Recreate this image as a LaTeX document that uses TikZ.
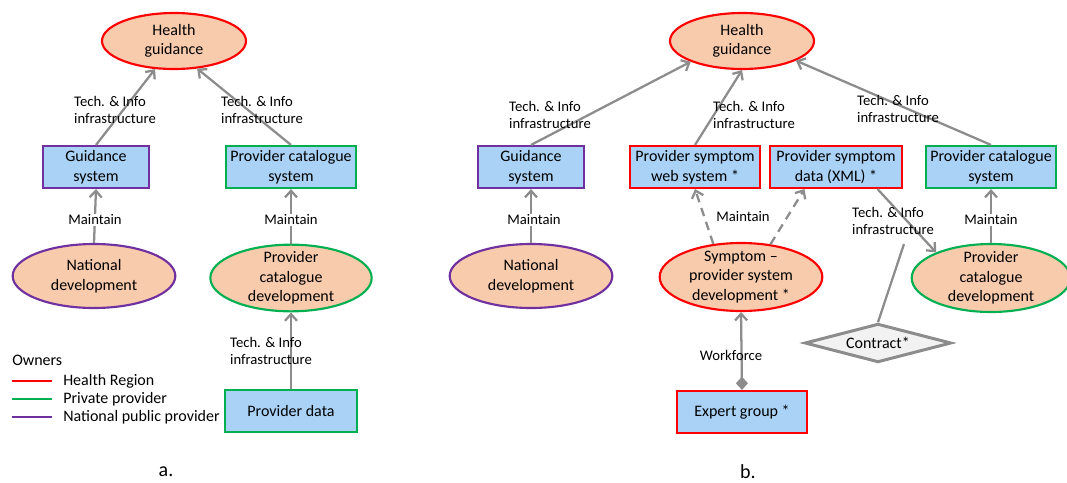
\documentclass[tikz,border=0pt]{standalone}
\usepackage{fontspec}
\setmainfont{Carlito}
\usetikzlibrary{arrows.meta,shapes.geometric}

\definecolor{peach}{RGB}{248,203,173}
\definecolor{sysblue}{RGB}{169,210,246}
\definecolor{hred}{RGB}{255,0,0}
\definecolor{pgreen}{RGB}{0,176,80}
\definecolor{npurple}{RGB}{112,48,160}
\definecolor{linkgray}{RGB}{140,140,140}
\definecolor{paper}{RGB}{242,242,242}

\begin{document}
\begin{tikzpicture}[x=0.75pt,y=-0.75pt,
    barb/.tip={Straight Barb[length=5pt,width=9pt]},
    box/.style={draw,fill=sysblue,line width=1.6pt,inner sep=1pt,minimum height=31.5pt,
      align=center,font=\fontsize{12}{14.6}\selectfont},
    oval/.style={ellipse,draw,fill=peach,line width=1.6pt,inner xsep=0pt,inner ysep=-3pt,
      align=center,font=\fontsize{12}{14.6}\selectfont},
    lbl/.style={align=left,inner sep=1pt,font=\fontsize{11}{12.8}\selectfont},
    link/.style={draw=linkgray,line width=1.7pt,-barb},
    capt/.style={font=\fontsize{15}{18}\selectfont}]
    \useasboundingbox (0,0) rectangle (1067,482);

    % a.
    \node[oval,draw=hred,minimum width=108pt,minimum height=42pt] (hga) at (174,41) {Health\\guidance};
    \node[box,draw=npurple,minimum width=80pt] (gsa) at (96,167) {Guidance\\system};
    \node[box,draw=pgreen,minimum width=98pt] (pcsa) at (291,167) {Provider catalogue\\system};
    \node[oval,draw=npurple,minimum width=122pt,minimum height=48pt] (nda) at (94,276) {National\\development};
    \node[oval,draw=pgreen,minimum width=121pt,minimum height=50pt] (pcda) at (291,278) {Provider\\catalogue\\development};
    \node[box,draw=pgreen,minimum width=99pt,minimum height=31pt] (pda) at (291,411) {Provider data};

    \draw[link] (gsa.north) -- (hga.236);
    \draw[link] (pcsa.north) -- (hga.310);
    \draw[link] (nda.north) -- (gsa.south);
    \draw[link] (pcda.north) -- (pcda.north |- pcsa.south);
    \draw[link] (pda.north) -- (pcda.south);

    \node[lbl] (tia1) at (115,110) {Tech. \& Info\\infrastructure};
    \node[lbl] (tia2) at (262,110) {Tech. \& Info\\infrastructure};
    \node[lbl,fill=white] (mta1) at (95,220) {Maintain};
    \node[lbl,fill=white] (mta2) at (291,220) {Maintain};
    \node[lbl] (tia3) at (271,351) {Tech. \& Info\\infrastructure};

    % owners
    \node[anchor=west,inner sep=0pt,font=\fontsize{12}{14}\selectfont] (own) at (12,360) {Owners};
    \foreach \y/\c/\t [count=\i] in {381/hred/Health Region,399/pgreen/Private provider,417/npurple/National public provider} {
      \node[anchor=west,inner sep=0pt,font=\fontsize{12}{14}\selectfont] (own\i) at (63,\y) {\t};
      \draw[\c,line width=1.6pt] (12,\y) -- (52,\y);
    }
    \node[capt] (capa) at (166,472) {a.};

    % b.
    \node[oval,draw=hred,minimum width=108pt,minimum height=42pt] (hgb) at (742,41) {Health\\guidance};
    \node[box,draw=npurple,minimum width=80pt] (gsb) at (531,167) {Guidance\\system};
    \node[box,draw=hred,minimum width=97.5pt] (pswb) at (695,167) {Provider symptom\\web system *};
    \node[box,draw=hred,minimum width=99pt] (psdb) at (836,167) {Provider symptom\\data (XML) *};
    \node[box,draw=pgreen,minimum width=98pt] (pcsb) at (991,167) {Provider catalogue\\system};
    \node[oval,draw=npurple,minimum width=122pt,minimum height=48pt] (ndb) at (531,276) {National\\development};
    \node[oval,draw=hred,minimum width=122pt,minimum height=51pt] (spdb) at (741,277) {Symptom --\\provider system\\development *};
    \node[oval,draw=pgreen,minimum width=119pt,minimum height=51pt] (pcdb) at (991,278) {Provider\\catalogue\\development};
    \node[diamond,draw=linkgray,fill=paper,line width=2.25pt,aspect=3.5,inner sep=0pt,
      minimum width=110pt,minimum height=29pt,font=\fontsize{12}{14.6}\selectfont] (ctb) at (878,343) {Contract*};
    \node[box,draw=hred,minimum width=98pt] (egb) at (742,412) {Expert group *};

    \draw[link] (gsb.north) -- (hgb.202);
    \draw[link] (pswb.north) -- (hgb.south);
    \draw[link] (pcsb.north) -- (hgb.340);
    \draw[link,dash pattern=on 6.5pt off 4.5pt] (spdb.130) -- (pswb.south);
    \draw[link,dash pattern=on 6.5pt off 4.5pt] (spdb.48) -- (psdb.215);
    \draw[link] (ndb.north) -- (gsb.south);
    \draw[link] (pcdb.north) -- (pcsb.south);
    \draw[link] (psdb.332) -- (pcdb.155);
    \coordinate (ctend) at (904,244); % association to the arrow above
    \draw[linkgray,line width=1.7pt] (ctb.north) -- (ctend);
    \draw[link,{Diamond[length=10pt,width=9pt]}-barb] (egb.north) -- (spdb.south);

    \node[lbl] (tib1) at (550,115) {Tech. \& Info\\infrastructure};
    \node[lbl] (tib2) at (754,115) {Tech. \& Info\\infrastructure};
    \node[lbl] (tib3) at (898,109) {Tech. \& Info\\infrastructure};
    \node[lbl] (tib4) at (893,221) {Tech. \& Info\\infrastructure};
    \node[lbl,fill=white] (mtb1) at (534,220) {Maintain};
    \node[lbl] (mtb2) at (743,217) {Maintain};
    \node[lbl,fill=white] (mtb3) at (991,220) {Maintain};
    \node[lbl] (wfb) at (731,355) {Workforce};
    \node[capt] (capb) at (748,472) {b.};
\end{tikzpicture}
\end{document}
